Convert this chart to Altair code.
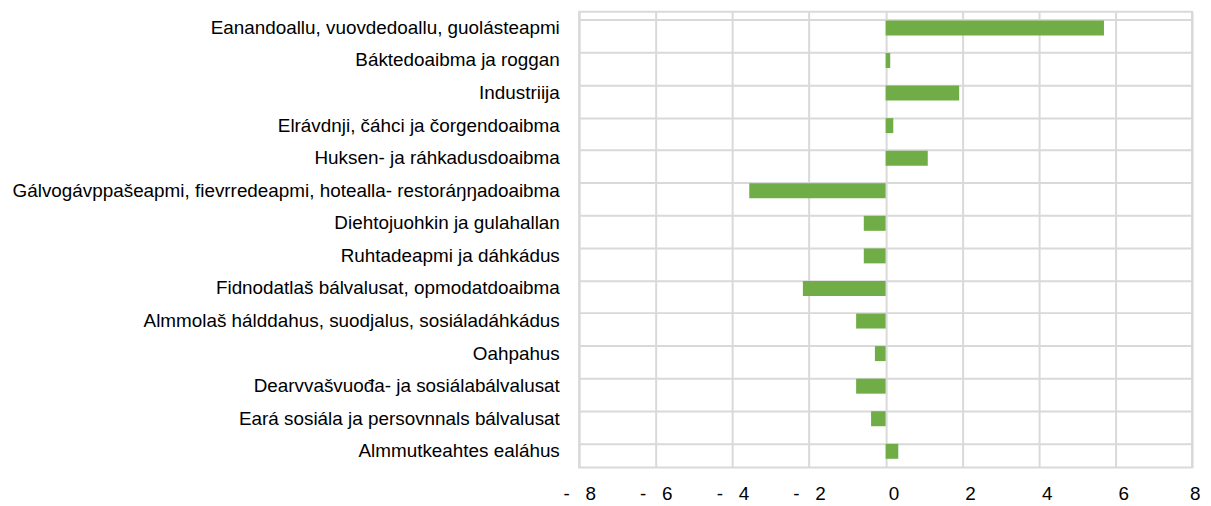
import altair as alt
import pandas as pd

categories = [
    "Eanandoallu, vuovdedoallu, guolásteapmi",
    "Báktedoaibma ja roggan",
    "Industriija",
    "Elrávdnji, čáhci ja čorgendoaibma",
    "Huksen- ja ráhkadusdoaibma",
    "Gálvogávppašeapmi, fievrredeapmi, hotealla- restoráŋŋadoaibma",
    "Diehtojuohkin ja gulahallan",
    "Ruhtadeapmi ja dáhkádus",
    "Fidnodatlaš bálvalusat, opmodatdoaibma",
    "Almmolaš hálddahus, suodjalus, sosiáladáhkádus",
    "Oahpahus",
    "Dearvvašvuođa- ja sosiálabálvalusat",
    "Eará sosiála ja persovnnals bálvalusat",
    "Almmutkeahtes ealáhus",
]
values = [5.7, 0.12, 1.92, 0.2, 1.1, -3.56, -0.57, -0.57, -2.16, -0.77, -0.28, -0.77, -0.38, 0.33]
x_ticks = [-8, -6, -4, -2, 0, 2, 4, 6, 8]

df = pd.DataFrame({"cat": categories, "val": values})

grid_color = "#d9d9d9"
font = "Liberation Sans"

chart = alt.Chart(df).mark_bar(color="#70AD47").encode(
    y=alt.Y(
        "cat:N",
        sort=categories,
        title=None,
        scale=alt.Scale(paddingInner=0.54, paddingOuter=0.27),
        axis=alt.Axis(
            grid=True,
            bandPosition=0,
            gridColor=grid_color,
            gridWidth=2,
            ticks=False,
            domain=False,
            labelFont=font,
            labelFontSize=19,
            labelColor="#000000",
            labelPadding=20,
            labelLimit=700,
        ),
    ),
    x=alt.X(
        "val:Q",
        title=None,
        scale=alt.Scale(domain=[-8, 8], nice=False),
        axis=alt.Axis(
            values=x_ticks,
            grid=True,
            gridColor=grid_color,
            gridWidth=2,
            ticks=False,
            domain=False,
            labelFont=font,
            labelFontSize=19,
            labelColor="#000000",
            labelPadding=17,
            labelFlush=False,
            labelOverlap=False,
            labelExpr="datum.value < 0 ? '-\u00a0\u00a0\u00a0' + abs(datum.value) : (datum.value >= 8 ? '\u200b\u00a0' + datum.value : '\u200b\u00a0\u00a0\u00a0' + datum.value)",
        ),
    ),
).properties(
    width=617,
    height=459,
    autosize=alt.AutoSizeParams(type="none"),
    padding={"left": 575, "top": 2, "right": 11, "bottom": 36},
).configure_view(
    stroke=grid_color,
    strokeWidth=2,
)

chart.save("out.html", embed_options={"renderer": "svg", "actions": False})
